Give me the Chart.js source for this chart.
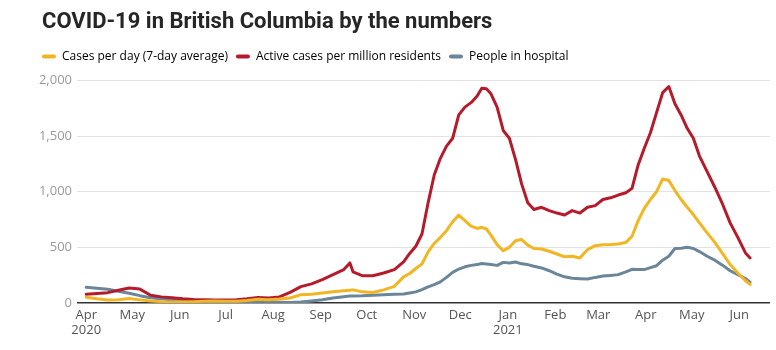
<!DOCTYPE html>
<html>
<head>
<meta charset="utf-8">
<script src="https://cdn.jsdelivr.net/npm/chart.js@4/dist/chart.umd.min.js"></script>
<style>
  html, body { margin: 0; padding: 0; background: #fff; }
  #wrap { width: 776px; height: 350px; }
</style>
</head>
<body>
<div id="wrap"><canvas id="c" width="776" height="350"></canvas></div>
<script>
// days since Apr 1 2020
const days = [0, 7, 14, 21, 28, 35, 42, 49, 56, 63, 70, 77, 84, 91, 98, 105, 112, 119, 126, 133,
  140, 147, 154, 161, 168, 172, 174, 180, 187, 194, 201, 207, 211, 215, 219, 223, 227, 231, 235, 239,
  243, 247, 251, 255, 258, 261, 264, 268, 272, 276, 280, 284, 288, 292, 297, 302, 307, 312, 317, 322,
  327, 332, 337, 342, 347, 352, 356, 360, 364, 368, 372, 376, 380, 384, 388, 392, 396, 400, 405, 410,
  415, 420, 425, 430, 433];

const casesPerDay = [52, 38, 28, 30, 40, 28, 18, 12, 10, 10, 12, 15, 18, 15, 15, 22, 33, 30, 35, 45,
  75, 78, 90, 102, 110, 115, 118, 100, 95, 118, 150, 235, 265, 310, 350, 460, 535, 590, 650, 730,
  790, 740, 690, 670, 680, 665, 610, 525, 470, 500, 560, 570, 520, 490, 485, 465, 440, 415, 420, 405,
  480, 515, 523, 525, 530, 545, 600, 740, 850, 930, 1000, 1115, 1100, 1010, 930, 860, 795, 720, 630, 545,
  445, 345, 270, 200, 168];

const activePerMillion = [78, 85, 93, 115, 135, 125, 70, 55, 48, 38, 32, 30, 28, 27, 30, 38, 50, 45, 55, 95,
  147, 172, 210, 255, 300, 360, 280, 245, 245, 270, 300, 370, 445, 510, 620, 900, 1150, 1300, 1410, 1480,
  1690, 1760, 1800, 1860, 1930, 1925, 1880, 1760, 1550, 1480, 1290, 1070, 900, 840, 860, 830, 808, 790, 830, 808,
  860, 875, 930, 945, 970, 990, 1030, 1240, 1390, 1530, 1710, 1890, 1945, 1790, 1690, 1570, 1480, 1320, 1180, 1040,
  890, 720, 590, 450, 405];

const inHospital = [141, 133, 124, 105, 88, 66, 48, 38, 30, 22, 18, 15, 13, 12, 12, 12, 12, 8, 6, 5,
  8, 18, 30, 45, 57, 62, 63, 65, 70, 75, 78, 80, 90, 100, 120, 145, 165, 190, 230, 275,
  305, 325, 338, 345, 355, 350, 345, 338, 365, 360, 368, 352, 345, 330, 315, 290, 260, 235, 222, 218,
  215, 230, 242, 248, 255, 280, 303, 300, 300, 318, 335, 385, 420, 490, 492, 500, 490, 462, 420, 385,
  340, 290, 255, 220, 188];

// month starts (days since Apr 1 2020) and their labels
const monthDays = [0, 30, 61, 91, 122, 153, 183, 214, 244, 275, 306, 334, 365, 395, 426];
const monthLabels = [["Apr", "2020"], "May", "Jun", "Jul", "Aug", "Sep", "Oct", "Nov", "Dec",
  ["Jan", "2021"], "Feb", "Mar", "Apr", "May", "Jun"];

const yTicks = [0, 500, 1000, 1500, 2000];

const seriesNames = ["Cases per day (7-day average)", "Active cases per million residents", "People in hospital"];
const seriesColors = ["#f1b622", "#b51c2b", "#6b8599"];

const FONT = "'Open Sans', sans-serif";

const pts = (vals) => vals.map((v, i) => ({ x: days[i], y: v }));

// nudge title right to line up with legend, and leave room under the legend
const layoutTweaks = {
  id: "layoutTweaks",
  afterInit(chart) {
    const lg = chart.legend;
    if (lg) {
      const fit = lg.fit;
      lg.fit = function () { fit.call(this); this.height += 8; };
    }
  },
  afterLayout(chart) {
    const t = chart.titleBlock;
    if (t) { t.left += 8; t.right += 8; }
  },
};

new Chart(document.getElementById("c"), {
  type: "line",
  data: {
    datasets: [casesPerDay, activePerMillion, inHospital].map((vals, i) => ({
      label: seriesNames[i],
      data: pts(vals),
      borderColor: seriesColors[i],
      backgroundColor: seriesColors[i],
      borderWidth: 3,
      pointRadius: 0,
      tension: 0,
      borderJoinStyle: "round",
      borderCapStyle: "round",
    })),
  },
  plugins: [layoutTweaks],
  options: {
    responsive: false,
    animation: false,
    layout: { padding: { left: 34, right: 6, top: 0, bottom: 0 } },
    plugins: {
      title: {
        display: true,
        text: "COVID-19 in British Columbia by the numbers",
        align: "start",
        color: "#262626",
        font: { family: "Roboto, sans-serif", size: 22, weight: "bold" },
        padding: { top: 9, bottom: 7 },
      },
      legend: {
        align: "start",
        labels: {
          color: "#333",
          font: { family: FONT, size: 12 },
          boxWidth: 14,
          boxHeight: 4,
          padding: 8,
          useBorderRadius: true,
          borderRadius: 2,
          generateLabels: (chart) => chart.data.datasets.map((d, i) => ({
            text: d.label, fillStyle: d.borderColor, strokeStyle: d.borderColor,
            lineWidth: 0, datasetIndex: i, borderRadius: 2,
          })),
        },
      },
      tooltip: { enabled: false },
    },
    scales: {
      x: {
        type: "linear",
        min: -6,
        max: 446,
        grid: { display: false, drawTicks: false },
        border: { display: false },
        afterBuildTicks: (s) => { s.ticks = monthDays.map((v) => ({ value: v })); },
        afterFit: (s) => { s.height = 47; },
        ticks: {
          color: "#555",
          padding: 4,
          autoSkip: false,
          maxRotation: 0,
          font: { family: FONT, size: 13 },
          callback: (v) => monthLabels[monthDays.indexOf(v)],
        },
      },
      y: {
        min: 0,
        max: 2000,
        afterBuildTicks: (s) => { s.ticks = yTicks.map((v) => ({ value: v })); },
        afterFit: (s) => { s.width = 43; },
        border: { display: false },
        grid: {
          drawTicks: false,
          color: (c) => (c.tick && c.tick.value === 0 ? "#333" : "#e2e2e2"),
          lineWidth: (c) => (c.tick && c.tick.value === 0 ? 1.5 : 1),
        },
        ticks: {
          color: "#999",
          padding: 5,
          font: { family: FONT, size: 13 },
          callback: (v) => v.toLocaleString("en-US"),
        },
      },
    },
  },
});
</script>
</body>
</html>
